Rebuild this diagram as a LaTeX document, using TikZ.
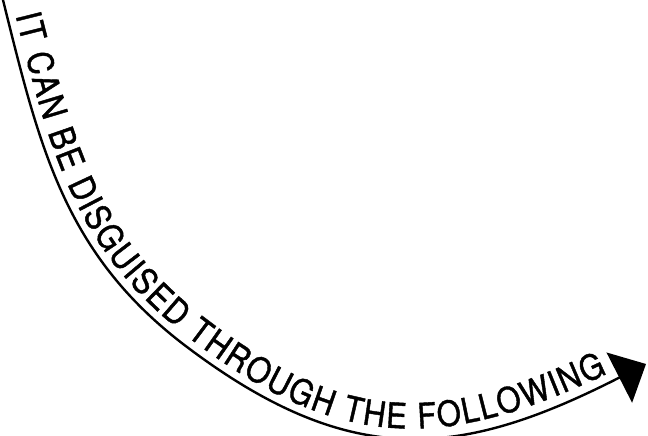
\documentclass[tikz,border=0pt]{standalone}
\usepackage{fontspec}
\setmainfont{TeX Gyre Heros}
\newfontfamily\bannerfamily[FakeBold=1.2,FakeStretch=0.88]{TeX Gyre Heros}
\usetikzlibrary{arrows.meta,decorations.text}
\newcommand\bannerfont{\bannerfamily\fontsize{35}{40}\selectfont}
\begin{document}
\begin{tikzpicture}[
                  x=1pt, y=1pt,
                  swoop/.style={line width=2.4pt, -{Triangle[width=56pt,length=30pt]}},
                  caption/.style={decorate, decoration={text along path,
                    text align={fit to path, left indent=22pt, right indent=39pt},
                    text={|\bannerfont|IT CAN BE DISGUISED THROUGH THE FOLLOWING}}}
                ]
  \useasboundingbox (0,0) rectangle (648,436);
  % the arrow
  \coordinate (start) at (2,440);
  \coordinate (turn) at (187,89);
  \coordinate (tip) at (646,72);
  \draw[swoop] (start) to[out=-76, in=143] (turn) to[out=-37, in=-153, looseness=1.15] (tip);
  % the text runs on a curve just inside it
  \coordinate (start') at (10.2,442);
  \coordinate (turn') at (192.1,95.8);
  \coordinate (tip') at (642.2,79.6);
  \path[caption] (start') to[out=-76, in=143] (turn') to[out=-37, in=-153, looseness=1.15] (tip');
\end{tikzpicture}
\end{document}
